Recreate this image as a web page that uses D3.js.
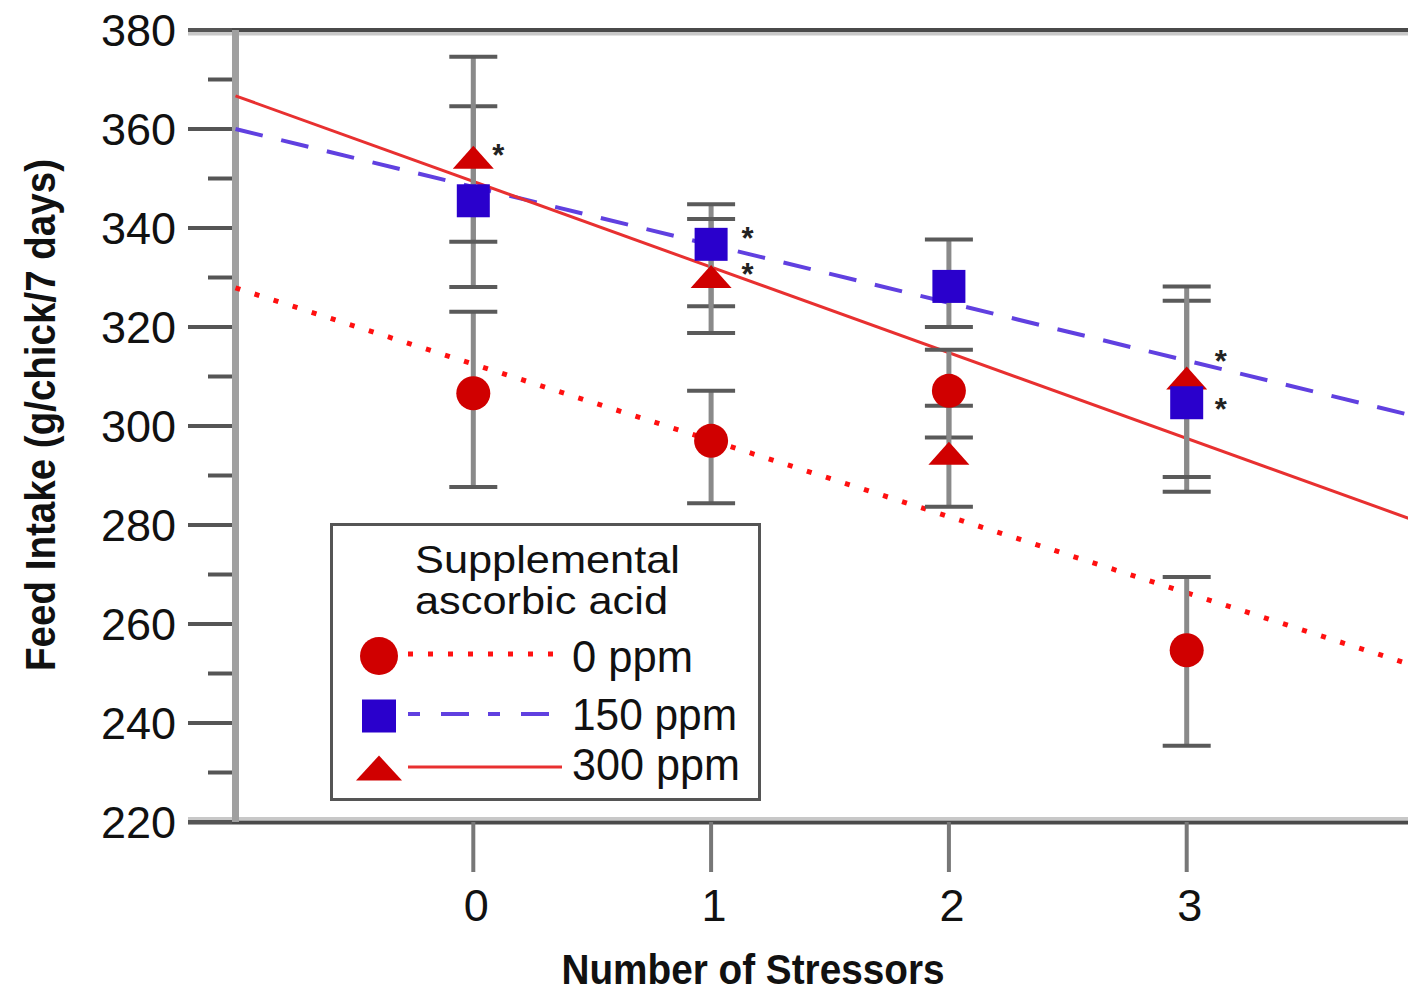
<!DOCTYPE html>
<html>
<head>
<meta charset="utf-8">
<script src="https://cdn.jsdelivr.net/npm/d3@7"></script>
<style>
  html, body { margin: 0; padding: 0; background: #fff; }
  svg { display: block; font-family: "Liberation Sans", Arial, sans-serif; }
</style>
</head>
<body>
<div id="chart"></div>
<script>
// number of stressors on the x axis
var stressors = [0, 1, 2, 3];
var xTickValues = [0, 1, 2, 3];
var yMajorTicks = [220, 240, 260, 280, 300, 320, 340, 360, 380];
var yMinorTicks = [230, 250, 270, 290, 310, 330, 350, 370];

// 0 ppm ascorbic acid
var mean0 = [306.6, 297.0, 307.1, 254.7];
var upper0 = [323.1, 307.1, 315.4, 269.5];
var lower0 = [287.7, 284.4, 297.7, 235.4];
// 150 ppm
var mean150 = [345.5, 336.7, 328.2, 304.7];
var upper150 = [364.6, 344.8, 337.7, 325.3];
var lower150 = [328.1, 324.2, 320.0, 286.7];
// 300 ppm
var mean300 = [354.3, 330.2, 294.5, 309.7];
var upper300 = [374.6, 341.8, 304.1, 328.2];
var lower300 = [337.2, 318.8, 283.7, 289.7];

// regression lines (0, 150, 300 ppm)
var fitIntercept = [312.5, 348.3, 349.4];
var fitSlope = [-15.4, -11.7, -17.3];

// significance asterisks
var starX = [0.105, 1.153, 1.153, 3.143, 3.143];
var starY = [356.2, 339.4, 332.1, 314.5, 304.8];

var legendLabels = ['0 ppm', '150 ppm', '300 ppm'];

var W = 1408, H = 992;
var svg = d3.select('#chart').append('svg')
  .attr('width', W).attr('height', H);

var x = d3.scaleLinear().domain([-1, 4]).range([235.5, 1424.5]);
var y = d3.scaleLinear().domain([220, 380]).range([822, 30]);

var RED = '#d00000', BLUE = '#2a00cc';

// frame: top line and bottom axis line
svg.append('line').attr('x1', 188).attr('x2', W).attr('y1', 33.5).attr('y2', 33.5)
  .attr('stroke', '#c8c8c8').attr('stroke-width', 4);
svg.append('line').attr('x1', 188).attr('x2', W).attr('y1', y(380)).attr('y2', y(380))
  .attr('stroke', '#4a4a4a').attr('stroke-width', 4);
svg.append('line').attr('x1', 188).attr('x2', W).attr('y1', 818.5).attr('y2', 818.5)
  .attr('stroke', '#c8c8c8').attr('stroke-width', 3);
svg.append('line').attr('x1', 188).attr('x2', W).attr('y1', y(220) + 0.5).attr('y2', y(220) + 0.5)
  .attr('stroke', '#4a4a4a').attr('stroke-width', 4);

// left axis
svg.append('line').attr('x1', x(-1)).attr('x2', x(-1)).attr('y1', y(380)).attr('y2', y(220))
  .attr('stroke', '#a0a0a0').attr('stroke-width', 7);
svg.append('g').selectAll('line.major').data(yMajorTicks).enter().append('line')
  .attr('x1', 188).attr('x2', 232)
  .attr('y1', function (d) { return y(d); }).attr('y2', function (d) { return y(d); })
  .attr('stroke', '#555').attr('stroke-width', 4);
svg.append('g').selectAll('line.minor').data(yMinorTicks).enter().append('line')
  .attr('x1', 208).attr('x2', 232)
  .attr('y1', function (d) { return y(d); }).attr('y2', function (d) { return y(d); })
  .attr('stroke', '#555').attr('stroke-width', 4);
svg.append('g').selectAll('text').data(yMajorTicks).enter().append('text')
  .attr('x', 176).attr('y', function (d) { return y(d); })
  .attr('dy', '0.36em')
  .attr('text-anchor', 'end')
  .attr('font-size', 45)
  .attr('fill', '#111')
  .text(function (d) { return d; });

// bottom ticks
svg.append('g').selectAll('line').data(xTickValues).enter().append('line')
  .attr('x1', function (d) { return x(d); }).attr('x2', function (d) { return x(d); })
  .attr('y1', y(220)).attr('y2', 872)
  .attr('stroke', '#777').attr('stroke-width', 4);
svg.append('g').selectAll('text').data(xTickValues).enter().append('text')
  .attr('x', function (d) { return x(d) + 3; }).attr('y', 921)
  .attr('text-anchor', 'middle')
  .attr('font-size', 45)
  .attr('fill', '#111')
  .text(function (d) { return d; });

// axis titles
svg.append('text')
  .attr('x', 753).attr('y', 984)
  .attr('text-anchor', 'middle')
  .attr('font-size', 42).attr('font-weight', 'bold')
  .attr('textLength', 383).attr('lengthAdjust', 'spacingAndGlyphs')
  .attr('fill', '#111')
  .text('Number of Stressors');
svg.append('text')
  .attr('transform', 'translate(55,415) rotate(-90)')
  .attr('text-anchor', 'middle')
  .attr('font-size', 42).attr('font-weight', 'bold')
  .attr('textLength', 512).attr('lengthAdjust', 'spacingAndGlyphs')
  .attr('fill', '#111')
  .text('Feed Intake (g/chick/7 days)');

// regression lines
var lineStyles = [
  { color: '#ff1010', width: 5, dash: '5,15' },
  { color: '#6040e0', width: 4, dash: '28,19' },
  { color: '#e83030', width: 3, dash: null }
];
var fits = svg.append('g');
for (var i = 0; i < fitIntercept.length; i++) {
  var s = lineStyles[i];
  var ends = [-1, 4].map(function (v) { return [x(v), y(fitIntercept[i] + fitSlope[i] * v)]; });
  fits.append('path')
    .attr('d', d3.line()(ends))
    .attr('fill', 'none')
    .attr('stroke', s.color)
    .attr('stroke-width', s.width)
    .attr('stroke-dasharray', s.dash);
}

// error bars
var groups = [
  { mean: mean0, upper: upper0, lower: lower0 },
  { mean: mean150, upper: upper150, lower: lower150 },
  { mean: mean300, upper: upper300, lower: lower300 }
];
var errs = svg.append('g');
groups.forEach(function (g) {
  stressors.forEach(function (sx, k) {
    var cx = x(sx);
    errs.append('line').attr('x1', cx).attr('x2', cx)
      .attr('y1', y(g.upper[k])).attr('y2', y(g.lower[k]))
      .attr('stroke', '#8a8a8a').attr('stroke-width', 5);
    [g.upper[k], g.lower[k]].forEach(function (v) {
      errs.append('line').attr('x1', cx - 24).attr('x2', cx + 24)
        .attr('y1', y(v)).attr('y2', y(v))
        .attr('stroke', '#5a5a5a').attr('stroke-width', 4);
    });
  });
});

// markers
function triPath(cx, cy, w, h) {
  return 'M' + cx + ',' + (cy - h / 2) + 'L' + (cx + w / 2) + ',' + (cy + h / 2) +
    'L' + (cx - w / 2) + ',' + (cy + h / 2) + 'Z';
}
var marks = svg.append('g');
marks.selectAll('circle').data(stressors).enter().append('circle')
  .attr('cx', function (d) { return x(d); })
  .attr('cy', function (d, k) { return y(mean0[k]); })
  .attr('r', 17).attr('fill', RED);
marks.selectAll('path.tri').data(stressors).enter().append('path')
  .attr('d', function (d, k) { return triPath(x(d), y(mean300[k]), 41, 23); })
  .attr('fill', RED);
marks.selectAll('rect').data(stressors).enter().append('rect')
  .attr('x', function (d) { return x(d) - 16.5; })
  .attr('y', function (d, k) { return y(mean150[k]) - 16.5; })
  .attr('width', 33).attr('height', 33).attr('fill', BLUE);

// asterisks
svg.append('g').selectAll('text').data(starX).enter().append('text')
  .attr('x', function (d) { return x(d); })
  .attr('y', function (d, k) { return y(starY[k]); })
  .attr('dy', '0.58em')
  .attr('text-anchor', 'middle')
  .attr('font-size', 31).attr('font-weight', 'bold')
  .attr('fill', '#222')
  .text('*');

// legend
var lg = svg.append('g');
lg.append('rect').attr('x', 331.5).attr('y', 524.5).attr('width', 428).attr('height', 275)
  .attr('fill', '#fff').attr('stroke', '#555').attr('stroke-width', 3);
lg.append('text').attr('x', 415).attr('y', 573).attr('font-size', 38)
  .attr('textLength', 265).attr('lengthAdjust', 'spacingAndGlyphs')
  .attr('fill', '#111').text('Supplemental');
lg.append('text').attr('x', 415).attr('y', 614).attr('font-size', 38)
  .attr('textLength', 253).attr('lengthAdjust', 'spacingAndGlyphs')
  .attr('fill', '#111').text('ascorbic acid');
var rowY = [656, 716, 768];
var textY = [672, 730, 780];
var textW = [121, 165, 168];
lg.append('circle').attr('cx', 379).attr('cy', rowY[0]).attr('r', 19).attr('fill', RED);
lg.append('rect').attr('x', 362).attr('y', rowY[1] - 16.5).attr('width', 34).attr('height', 33).attr('fill', BLUE);
lg.append('path').attr('d', triPath(379, rowY[2], 46, 25)).attr('fill', RED);
legendLabels.forEach(function (lab, i) {
  var s = lineStyles[i];
  lg.append('line').attr('x1', 408).attr('x2', 562)
    .attr('y1', rowY[i] - (i === 2 ? 1 : 2)).attr('y2', rowY[i] - (i === 2 ? 1 : 2))
    .attr('stroke', s.color).attr('stroke-width', s.width)
    .attr('stroke-dasharray', i === 1 ? '12,21,28,19' : s.dash);
  lg.append('text').attr('x', 572).attr('y', textY[i]).attr('font-size', 45)
    .attr('textLength', textW[i]).attr('lengthAdjust', 'spacingAndGlyphs')
    .attr('fill', '#111').text(lab);
});
</script>
</body>
</html>
